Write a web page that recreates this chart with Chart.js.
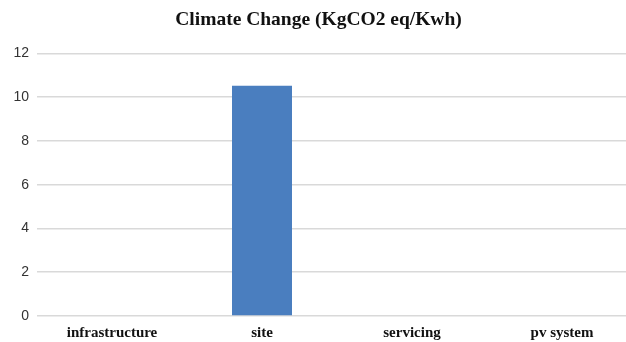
<!DOCTYPE html>
<html>
<head>
<meta charset="utf-8">
<script src="https://cdn.jsdelivr.net/npm/chart.js@4/dist/chart.umd.min.js"></script>
<style>
  html, body { margin: 0; padding: 0; background: #fff; overflow: hidden; }
  #wrap { position: relative; width: 637px; height: 342px; }
</style>
</head>
<body>
<div id="wrap"><canvas id="c"></canvas></div>
<script>
// Climate change contribution per life-cycle stage
const categories = ['infrastructure', 'site', 'servicing', 'pv system'];
const climateChange = [0, 10.52, 0, 0];
const yTicks = [0, 2, 4, 6, 8, 10, 12];

new Chart(document.getElementById('c'), {
  type: 'bar',
  data: {
    labels: categories,
    datasets: [{
      label: 'Climate Change (KgCO2 eq/Kwh)',
      data: climateChange,
      backgroundColor: '#4a7ebf',
      borderWidth: 0,
      barPercentage: 0.4,
      categoryPercentage: 1.0
    }]
  },
  options: {
    responsive: true,
    maintainAspectRatio: false,
    animation: false,
    layout: { padding: { top: 8, left: 0, right: 0, bottom: 0 } },
    plugins: {
      legend: { display: false },
      tooltip: { enabled: false },
      title: {
        display: true,
        text: 'Climate Change (KgCO2 eq/Kwh)',
        color: '#111',
        font: { family: '"Liberation Serif", "Times New Roman", serif', size: 19.5, weight: 'bold' },
        padding: { top: 0, bottom: 22 }
      }
    },
    scales: {
      x: {
        grid: { display: false, drawTicks: false },
        border: { display: false },
        afterFit: (scale) => { scale.height = 26; },
        ticks: {
          color: '#111',
          padding: 8,
          font: { family: '"Liberation Serif", "Times New Roman", serif', size: 15, weight: 'bold' }
        }
      },
      y: {
        min: yTicks[0],
        max: yTicks[yTicks.length - 1],
        afterBuildTicks: (axis) => { axis.ticks = yTicks.map(v => ({ value: v })); },
        afterFit: (scale) => { scale.width = 37; },
        grid: { color: '#d9d9d9', lineWidth: 1.5, drawTicks: false },
        border: { display: false },
        ticks: {
          color: '#333',
          padding: 8,
          font: { family: '"Liberation Sans", Arial, sans-serif', size: 14 }
        }
      }
    }
  }
});
</script>
</body>
</html>
